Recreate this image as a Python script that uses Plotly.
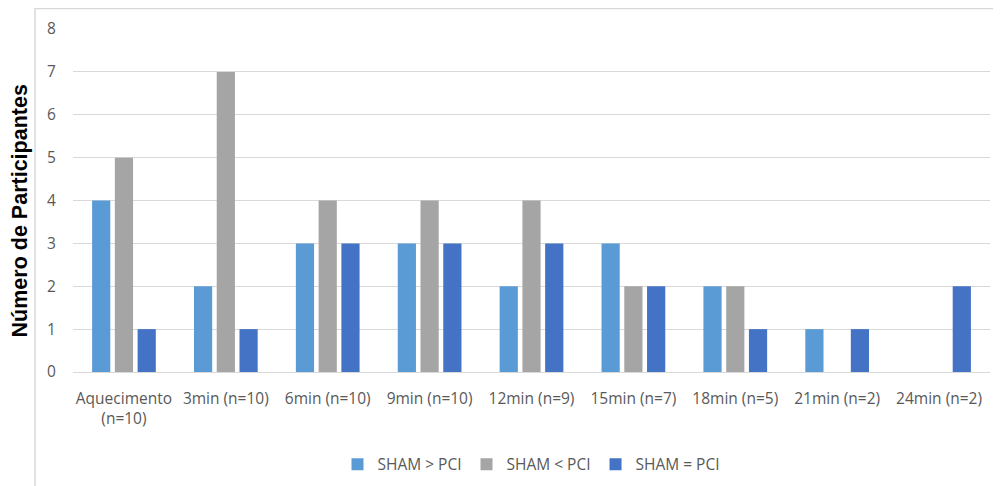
import plotly.graph_objects as go

categories = ["Aquecimento<br>(n=10)", "3min (n=10)", "6min (n=10)", "9min (n=10)",
              "12min (n=9)", "15min (n=7)", "18min (n=5)", "21min (n=2)", "24min (n=2)"]
sham_gt_pci = [4, 2, 3, 3, 2, 3, 2, 1, 0]
sham_lt_pci = [5, 7, 4, 4, 4, 2, 2, 0, 0]
sham_eq_pci = [1, 1, 3, 3, 3, 2, 1, 1, 2]
y_title = "Número de Participantes"

series = [
    ("SHAM > PCI", sham_gt_pci, "#5B9BD5"),
    ("SHAM < PCI", sham_lt_pci, "#A5A5A5"),
    ("SHAM = PCI", sham_eq_pci, "#4472C4"),
]

fig = go.Figure()
for name, vals, color in series:
    fig.add_trace(go.Bar(x=categories, y=vals, name=name, marker_color=color,
                         marker_line_width=0))

gray = "#595959"
fig.update_layout(
    width=1001, height=486,
    margin=dict(l=65, r=19, t=21, b=122),
    paper_bgcolor="white", plot_bgcolor="white",
    barmode="group", bargap=0.33, bargroupgap=0.2,
    font=dict(family="Open Sans, Liberation Sans, sans-serif", color=gray, size=13),
    showlegend=True,
    legend=dict(orientation="h", x=0.5, xanchor="center", y=-0.27, yanchor="middle",
                font=dict(size=15.5, color=gray, family="Open Sans, sans-serif"),
                itemwidth=30, tracegroupgap=0),
    xaxis=dict(showgrid=False, showline=False, zeroline=False, automargin=False,
               ticks="outside", tickcolor="rgba(0,0,0,0)", ticklen=12,
               tickfont=dict(size=15.5, color=gray)),
    yaxis=dict(range=[0, 8], dtick=1, showgrid=True, gridcolor="#D9D9D9", gridwidth=1,
               zeroline=True, zerolinecolor="#D9D9D9", zerolinewidth=1, showline=False,
               automargin=False,
               ticks="outside", tickcolor="rgba(0,0,0,0)", ticklen=13,
               tickfont=dict(size=15.5, color=gray, family="Open Sans, sans-serif")),
    annotations=[dict(text=y_title, xref="paper", yref="paper",
                      x=-0.0575, y=0.469, xanchor="center", yanchor="middle",
                      textangle=-90, showarrow=False,
                      font=dict(size=21.5, color="black",
                                family="Liberation Sans, Arial, sans-serif",
                                weight="bold"))],
    shapes=[dict(type="rect", xref="paper", yref="paper",
                 x0=-0.0414, x1=1.05, y0=-0.4, y1=1.06,
                 line=dict(color="#D9D9D9", width=1.5), fillcolor="rgba(0,0,0,0)",
                 layer="below")],
)

fig.write_html("out.html")
